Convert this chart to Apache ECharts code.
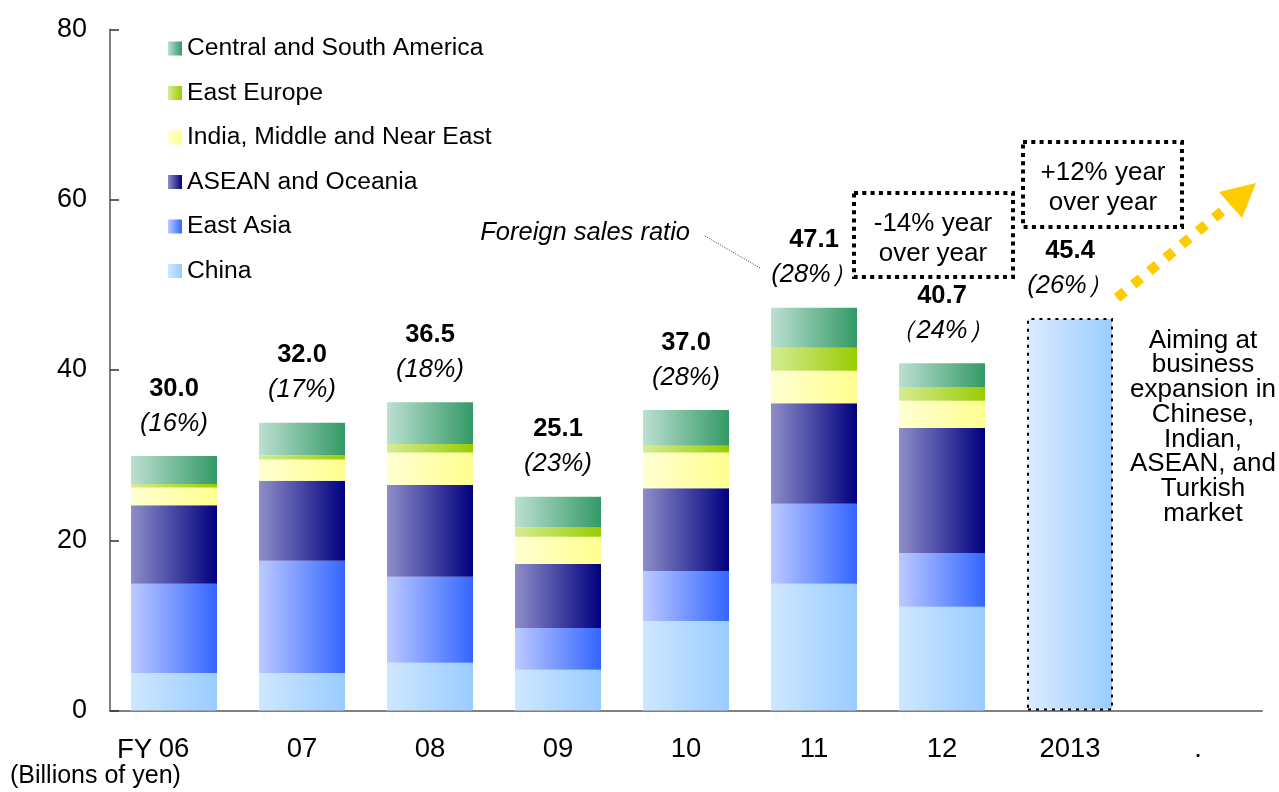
<!DOCTYPE html>
<html>
<head>
<meta charset="utf-8">
<script src="https://cdn.jsdelivr.net/npm/echarts@6/dist/echarts.min.js"></script>
<style>
html,body{margin:0;padding:0;background:#fff;}
#chart{width:1279px;height:792px;}
</style>
</head>
<body>
<div id="chart"></div>
<script>
const categories = ['06', '07', '08', '09', '10', '11', '12', '2013', '.'];
const china      = [4.4, 4.4, 5.6, 4.8, 10.5, 14.9, 12.2, '-', '-'];
const eastAsia   = [10.5, 13.2, 10.1, 4.9, 5.9, 9.4, 6.3, '-', '-'];
const asean      = [9.2, 9.4, 10.8, 7.5, 9.7, 11.8, 14.7, '-', '-'];
const india      = [2.1, 2.5, 3.8, 3.2, 4.2, 3.8, 3.2, '-', '-'];
const eastEurope = [0.4, 0.5, 1.0, 1.1, 0.8, 2.7, 1.6, '-', '-'];
const csAmerica  = [3.3, 3.8, 4.9, 3.6, 4.2, 4.7, 2.8, '-', '-'];
const forecast   = ['-', '-', '-', '-', '-', '-', '-', 46.1, '-'];
const totals = ['30.0', '32.0', '36.5', '25.1', '37.0', '47.1', '40.7', '45.4'];
const ratios = ['(16%)', '(17%)', '(18%)', '(23%)', '(28%)', '(28%\uFF09', '\uFF0824%\uFF09', '(26%\uFF09'];
const yTicks = [0, 20, 40, 60, 80];

const FONT = 'Arial, "Liberation Sans", sans-serif';

function grad(c1, c2) {
  return new echarts.graphic.LinearGradient(0, 0, 1, 0, [
    { offset: 0, color: c1 }, { offset: 1, color: c2 }
  ]);
}

const labelCfg = {
  show: true,
  position: 'top',
  distance: 15,
  formatter: p => '{v|' + totals[p.dataIndex] + '}\n{r|' + ratios[p.dataIndex] + '}',
  rich: {
    v: { fontFamily: FONT, fontSize: 25.5, fontWeight: 'bold', color: '#000', lineHeight: 35, align: 'center' },
    r: { fontFamily: FONT, fontSize: 25.5, fontStyle: 'italic', color: '#000', lineHeight: 35, align: 'center' }
  }
};

function bar(name, data, c1, c2, extra) {
  return Object.assign({
    name: name, type: 'bar', stack: 'total', data: data,
    barWidth: 86,
    itemStyle: { color: grad(c1, c2) },
    emphasis: { disabled: true }
  }, extra || {});
}

const chart = echarts.init(document.getElementById('chart'));
chart.setOption({
  animation: false,
  backgroundColor: '#fff',
  grid: { left: 110, right: 17, top: 29.5, bottom: 81.5, containLabel: false },
  legend: {
    orient: 'vertical', left: 168, top: 36, padding: 0,
    itemWidth: 14, itemHeight: 14, itemGap: 19.5, icon: 'rect',
    data: ['Central and South America', 'East Europe', 'India, Middle and Near East', 'ASEAN and Oceania', 'East Asia', 'China'],
    textStyle: { fontFamily: FONT, fontSize: 24.7, color: '#000', lineHeight: 24 },
    selectedMode: false
  },
  xAxis: {
    type: 'category', data: categories,
    axisLine: { lineStyle: { color: '#808080', width: 2 } },
    axisTick: { inside: true, length: 8, lineStyle: { color: '#333', width: 1.5 } },
    axisLabel: { fontFamily: FONT, fontSize: 27.5, color: '#000', margin: 25 }
  },
  yAxis: {
    type: 'value', min: yTicks[0], max: yTicks[yTicks.length - 1], interval: yTicks[1] - yTicks[0],
    splitLine: { show: false },
    axisLine: { show: true, lineStyle: { color: '#808080', width: 2 } },
    axisTick: { show: true, inside: true, length: 9, lineStyle: { color: '#333', width: 1.5 } },
    axisLabel: { fontFamily: FONT, fontSize: 27, color: '#000', margin: 23 }
  },
  series: [
    bar('China', china, '#cfe7ff', '#99ccff'),
    bar('East Asia', eastAsia, '#bccaff', '#3366ff'),
    bar('ASEAN and Oceania', asean, '#8e8ec8', '#000080'),
    bar('India, Middle and Near East', india, '#ffffd2', '#ffff90'),
    bar('East Europe', eastEurope, '#d6ec94', '#99cc00'),
    bar('Central and South America', csAmerica, '#bce0d2', '#339966', { label: labelCfg }),
    bar('FY2013 plan', forecast, '#dcecff', '#99ccff', {
      itemStyle: { color: grad('#dcecff', '#99ccff'), borderColor: '#000', borderWidth: 2, borderType: [3, 5] },
      label: labelCfg
    })
  ],
  graphic: [
    { type: 'text', style: { text: 'FY', x: 117, y: 750, fontFamily: FONT, fontSize: 27.5, fill: '#000', textAlign: 'left', textVerticalAlign: 'middle' } },
    { type: 'text', style: { text: '(Billions of yen)', x: 10, y: 776, fontFamily: FONT, fontSize: 25, fill: '#000', textAlign: 'left', textVerticalAlign: 'middle' } },
    { type: 'text', style: { text: 'Foreign sales ratio', x: 690, y: 233, fontFamily: FONT, fontSize: 25.5, fontStyle: 'italic', fill: '#000', textAlign: 'right', textVerticalAlign: 'middle' } },
    { type: 'line', shape: { x1: 705, y1: 236, x2: 760, y2: 268 }, style: { stroke: '#333', lineWidth: 1, lineDash: [1, 1.5] } },
    { type: 'rect', shape: { x: 854, y: 193, width: 159, height: 84 }, style: { fill: 'none', stroke: '#000', lineWidth: 4, lineDash: [4, 4.3] } },
    { type: 'text', style: { text: '-14% year\nover year', x: 933, y: 239, fontFamily: FONT, fontSize: 26, lineHeight: 30, fill: '#000', textAlign: 'center', textVerticalAlign: 'middle' } },
    { type: 'rect', shape: { x: 1023, y: 142, width: 159, height: 85 }, style: { fill: 'none', stroke: '#000', lineWidth: 4, lineDash: [4, 4.3] } },
    { type: 'text', style: { text: '+12% year\nover year', x: 1103, y: 188, fontFamily: FONT, fontSize: 26, lineHeight: 30, fill: '#000', textAlign: 'center', textVerticalAlign: 'middle' } },
    { type: 'line', shape: { x1: 1117, y1: 298, x2: 1232, y2: 203 }, style: { stroke: '#ffcc00', lineWidth: 10, lineDash: [10, 11] } },
    { type: 'polygon', shape: { points: [[1256, 183], [1219, 192], [1242, 218]] }, style: { fill: '#ffcc00' } },
    { type: 'text', style: { text: 'Aiming at\nbusiness\nexpansion in\nChinese,\nIndian,\nASEAN, and\nTurkish\nmarket', x: 1203, y: 427, fontFamily: FONT, fontSize: 26, lineHeight: 24.7, fill: '#000', textAlign: 'center', textVerticalAlign: 'middle' } }
  ]
});
</script>
</body>
</html>
